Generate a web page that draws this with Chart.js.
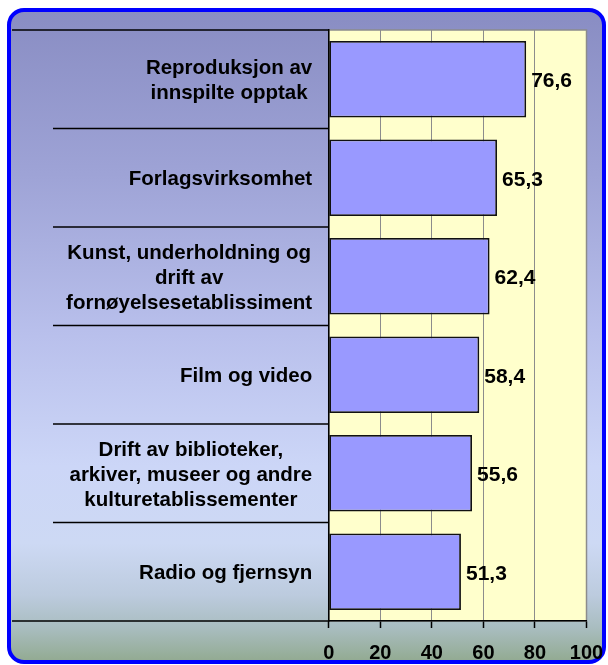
<!DOCTYPE html>
<html>
<head>
<meta charset="utf-8">
<script src="https://cdn.jsdelivr.net/npm/chart.js@4.4.1/dist/chart.umd.min.js"></script>
<style>
  html, body { margin: 0; padding: 0; background: #ffffff; }
  #wrap { position: relative; width: 608px; height: 665px; }
  #frame {
    position: absolute; left: 7px; top: 8px; width: 591px; height: 648px;
    border: 4px solid #0000ff; border-radius: 17px;
    background: linear-gradient(to bottom, #898dc3 0%, #9ea3d6 25%, #b9c0ec 50%, #ccd6f7 70%, #cdd9f4 82%, #bccbde 90%, #a9bdc0 95%, #93ab93 100%);
  }
  canvas { position: absolute; left: 0; top: 0; }
</style>
</head>
<body>
<div id="wrap">
  <div id="frame"></div>
  <canvas id="c" width="608" height="665"></canvas>
</div>
<script>
// Industries (each entry split into its display lines)
const categories = [
  ['Reproduksjon av', 'innspilte opptak'],
  ['Forlagsvirksomhet'],
  ['Kunst, underholdning og', 'drift av', 'fornøyelsesetablissiment'],
  ['Film og video'],
  ['Drift av biblioteker,', 'arkiver, museer og andre', 'kulturetablissementer'],
  ['Radio og fjernsyn']
];
// Share per industry (percent)
const shares = [76.6, 65.3, 62.4, 58.4, 55.6, 51.3];
// Value axis ticks
const xTicks = [0, 20, 40, 60, 80, 100];

const FONT = '"Liberation Sans", Arial, sans-serif';
const fmt = v => v.toFixed(1).replace('.', ',');

// Yellow plot background with a grey outline
const plotBackground = {
  id: 'plotBackground',
  beforeDraw(chart) {
    const { ctx, chartArea: a } = chart;
    ctx.save();
    ctx.fillStyle = '#ffffcc';
    ctx.fillRect(a.left, a.top, a.right - a.left, a.bottom - a.top);
    ctx.strokeStyle = '#8c8c8c';
    ctx.lineWidth = 1.5;
    ctx.strokeRect(a.left, a.top, a.right - a.left, a.bottom - a.top);
    ctx.restore();
  }
};

// Category label box: separators between bands and the labels themselves
const categoryBox = {
  id: 'categoryBox',
  afterDraw(chart) {
    const { ctx, chartArea: a } = chart;
    const y = chart.scales.y;
    const n = chart.data.labels.length;
    const band = (y.getPixelForValue(1) - y.getPixelForValue(0));
    ctx.save();
    ctx.strokeStyle = '#000000';
    ctx.lineWidth = 1.5;
    // top edge of the label box
    ctx.beginPath();
    ctx.moveTo(12, a.top);
    ctx.lineTo(a.left, a.top);
    ctx.stroke();
    // separators between categories
    for (let i = 1; i < n; i++) {
      const yy = y.getPixelForValue(i) - band / 2;
      ctx.beginPath();
      ctx.moveTo(53, yy);
      ctx.lineTo(a.left, yy);
      ctx.stroke();
    }
    // extension of the value axis line under the labels
    ctx.beginPath();
    ctx.moveTo(12, a.bottom);
    ctx.lineTo(a.left, a.bottom);
    ctx.stroke();

    ctx.fillStyle = '#000000';
    ctx.font = 'bold 20.5px ' + FONT;
    ctx.textBaseline = 'middle';
    ctx.textAlign = 'center';
    const lh = 25;
    const rightEdge = a.left - 16.5;
    chart.data.labels.forEach((lines, i) => {
      const cy = y.getPixelForValue(i) + 2;
      const w = Math.max(...lines.map(l => ctx.measureText(l).width));
      const cx = rightEdge - w / 2;
      lines.forEach((l, k) => {
        ctx.fillText(l, cx, cy + (k - (lines.length - 1) / 2) * lh);
      });
    });
    ctx.restore();
  }
};

// Value labels right of each bar
const valueLabels = {
  id: 'valueLabels',
  afterDatasetsDraw(chart) {
    const { ctx } = chart;
    const meta = chart.getDatasetMeta(0);
    ctx.save();
    ctx.fillStyle = '#000000';
    ctx.font = 'bold 21px ' + FONT;
    ctx.textAlign = 'left';
    ctx.textBaseline = 'middle';
    meta.data.forEach((bar, i) => {
      ctx.fillText(fmt(chart.data.datasets[0].data[i]), bar.x + 5, bar.y + 2);
    });
    ctx.restore();
  }
};

new Chart(document.getElementById('c'), {
  type: 'bar',
  data: {
    labels: categories,
    datasets: [{
      data: shares,
      backgroundColor: '#9999ff',
      borderColor: '#111111',
      borderWidth: 1.8,
      borderSkipped: false,
      barPercentage: 0.778,
      categoryPercentage: 1
    }]
  },
  options: {
    indexAxis: 'y',
    responsive: false,
    animation: false,
    devicePixelRatio: 1,
    layout: { padding: { left: 12, top: 30, right: 21.5, bottom: 1 } },
    plugins: { legend: { display: false }, tooltip: { enabled: false } },
    scales: {
      x: {
        min: xTicks[0],
        max: xTicks[xTicks.length - 1],
        afterBuildTicks(scale) { scale.ticks = xTicks.map(v => ({ value: v })); },
        afterFit(scale) { scale.height = 43; scale.paddingRight = 0; scale.paddingLeft = 0; },
        grid: { color: '#8c8c8c', lineWidth: 1, tickColor: '#000000', tickLength: 7, tickWidth: 1.5 },
        border: { color: '#000000', width: 1.5 },
        ticks: { color: '#000000', padding: 13.5, font: { family: FONT, size: 20, weight: 'bold' } }
      },
      y: {
        offset: true,
        afterFit(scale) { scale.width = 316.7; },
        grid: { drawOnChartArea: false, drawTicks: false },
        border: { color: '#000000', width: 1.5 },
        ticks: { display: false }
      }
    }
  },
  plugins: [plotBackground, categoryBox, valueLabels]
});
</script>
</body>
</html>
